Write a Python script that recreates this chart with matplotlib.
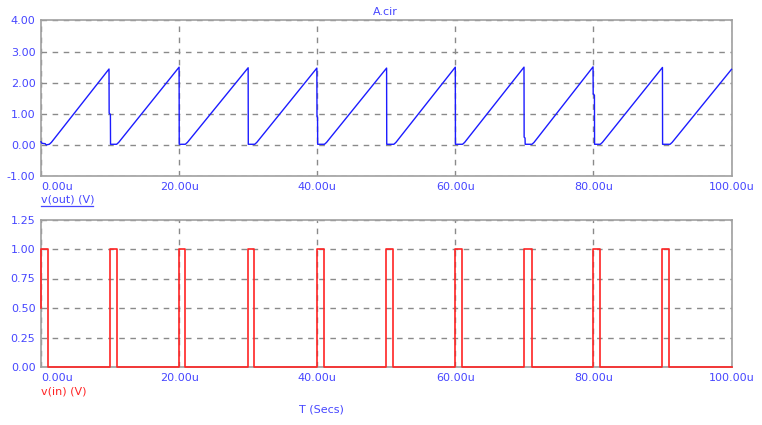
import matplotlib
matplotlib.use("Agg")
import matplotlib.pyplot as plt
from matplotlib.lines import Line2D

# ---- data (time in microseconds) ----
t_out = [0.0, 0.15, 0.6, 0.75, 1.2, 1.5,
         9.85, 9.87, 10.05, 10.07, 10.95, 11.25,
         20.0, 20.02, 20.9, 21.2,
         30.0, 30.02, 30.95, 31.25,
         39.95, 39.97, 40.05, 40.07, 41.05, 41.35,
         50.05, 50.07, 51.1, 51.4,
         60.0, 60.02, 61.05, 61.35,
         69.95, 69.97, 70.1, 70.12, 71.1, 71.4,
         79.95, 79.97, 80.15, 80.17, 81.0, 81.3,
         90.0, 90.02, 91.1, 91.4,
         100.0]
v_out = [0.10, 0.05, 0.04, 0.0, 0.02, 0.08,
         2.44, 1.02, 0.98, 0.02, 0.02, 0.08,
         2.50, 0.02, 0.02, 0.08,
         2.48, 0.02, 0.02, 0.08,
         2.47, 0.91, 0.88, 0.02, 0.02, 0.08,
         2.47, 0.02, 0.02, 0.08,
         2.50, 0.02, 0.02, 0.08,
         2.50, 0.25, 0.22, 0.02, 0.02, 0.08,
         2.51, 1.63, 1.60, 0.02, 0.02, 0.08,
         2.49, 0.02, 0.02, 0.08,
         2.43]

pulse_on = [0.0, 9.95, 20.0, 30.0, 39.9, 50.0, 60.0, 69.95, 79.9, 90.0]
pulse_off = [1.0, 11.0, 20.9, 30.9, 41.05, 51.0, 61.0, 71.05, 81.0, 90.9]
pulse_high = 1.0
start_level = 0.5
t_end = 100.0

x_ticks = [0, 20, 40, 60, 80, 100]
x_tick_labels = ["0.00u", "20.00u", "40.00u", "60.00u", "80.00u", "100.00u"]
y_ticks_top = [-1, 0, 1, 2, 3, 4]
y_labels_top = ["-1.00", "0.00", "1.00", "2.00", "3.00", "4.00"]
y_ticks_bot = [0, 0.25, 0.5, 0.75, 1.0, 1.25]
y_labels_bot = ["0.00", "0.25", "0.50", "0.75", "1.00", "1.25"]

# build step path for v(in) from pulse edges
t_in = [0.0]
v_in = [start_level]
for on, off in zip(pulse_on, pulse_off):
    if on != 0.0:
        t_in.append(on); v_in.append(0.0)
    t_in.append(on); v_in.append(pulse_high)
    t_in.append(off); v_in.append(pulse_high)
    t_in.append(off); v_in.append(0.0)
t_in.append(t_end); v_in.append(0.0)

# ---- style ----
BLUE = "#1c1cff"
TXT_BLUE = "#4646ff"
RED = "#ff2424"
GRID = "#8a8a8a"
SPINE = "#a0a0a0"
plt.rcParams["font.family"] = ["DejaVu Sans"]
FS = 8

W, H = 762, 425
fig = plt.figure(figsize=(W / 100, H / 100), dpi=100)

def px_axes(l, t, r, b):
    return fig.add_axes([l / W, 1 - b / H, (r - l) / W, (b - t) / H])

ax1 = px_axes(41, 20.5, 731.5, 176)
ax2 = px_axes(41, 219.5, 731.5, 367)

def style(ax, yt, yl, ylim):
    ax.set_xlim(0, 100)
    ax.set_ylim(*ylim)
    ax.set_xticks(x_ticks)
    ax.set_xticklabels(x_tick_labels)
    ax.set_yticks(yt)
    ax.set_yticklabels(yl)
    ax.tick_params(length=0, labelsize=FS, colors=TXT_BLUE, pad=4)
    ax.tick_params(axis="x", pad=4)
    ax.grid(True, color=GRID, linestyle=(0, (4, 4)), linewidth=1)
    for s in ax.spines.values():
        s.set_color(SPINE)
        s.set_linewidth(1.2)
    labs = ax.get_xticklabels()
    labs[0].set_horizontalalignment("left")

style(ax1, y_ticks_top, y_labels_top, (-1, 4))
style(ax2, y_ticks_bot, y_labels_bot, (0, 1.25))

ax1.plot(t_out, v_out, color=BLUE, linewidth=1.0, clip_on=False, zorder=3)
ax2.plot(t_in, v_in, color=RED, linewidth=1.2, clip_on=False, zorder=3)

# texts
fig.text(385 / W, 1 - 12 / H, "A.cir", color=TXT_BLUE, fontsize=FS,
         ha="center", va="center")
fig.text(41 / W, 1 - 200 / H, "v(out) (V)", color=TXT_BLUE, fontsize=FS,
         ha="left", va="center")
fig.add_artist(Line2D([41 / W, 92.5 / W], [1 - 206 / H, 1 - 206 / H],
                      color=TXT_BLUE, linewidth=0.9))
fig.text(41 / W, 1 - 392 / H, "v(in) (V)", color=RED, fontsize=FS,
         ha="left", va="center")
fig.text(321 / W, 1 - 409 / H, "T (Secs)", color=TXT_BLUE, fontsize=FS,
         ha="center", va="center")

fig.savefig("out.png", dpi=100)
